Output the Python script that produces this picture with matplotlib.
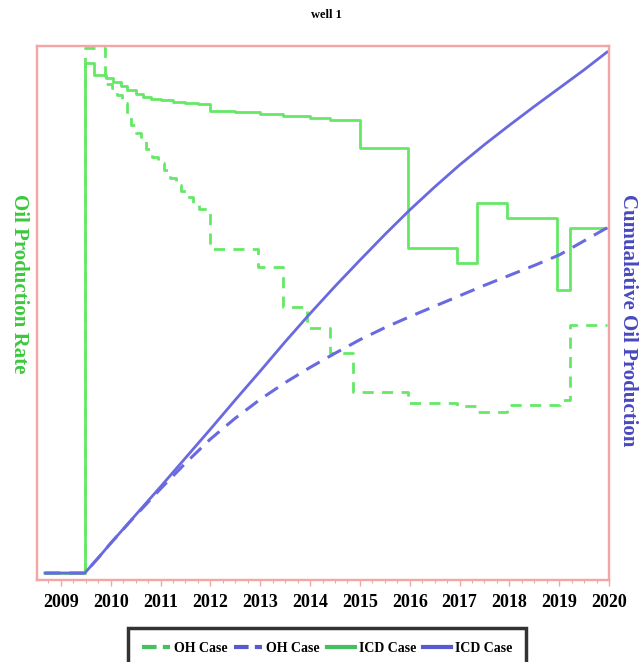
import matplotlib
matplotlib.use("Agg")
import matplotlib.pyplot as plt
from matplotlib.lines import Line2D
from matplotlib.ticker import MultipleLocator

# ---------------- data ----------------
years_ticks = list(range(2009, 2021))

# ICD case oil production rate (step, 'post')
icd_rate_x = [2008.68, 2009.48, 2009.66, 2009.90, 2010.05, 2010.20, 2010.33, 2010.50,
              2010.65, 2010.80, 2011.00, 2011.25, 2011.50, 2011.75, 2011.99, 2012.50,
              2013.00, 2013.46, 2014.00, 2014.40, 2015.00, 2015.97, 2016.95, 2017.35,
              2017.96, 2018.96, 2019.22, 2019.96]
icd_rate_y = [0.0, 97.1, 94.9, 94.3, 93.5, 92.8, 92.0, 91.3,
              90.7, 90.3, 90.0, 89.8, 89.5, 89.3, 88.0, 87.8,
              87.5, 87.0, 86.6, 86.3, 81.0, 61.9, 59.0, 70.5,
              67.6, 53.9, 65.7, 65.7]

# OH case oil production rate (step, 'post')
oh_rate_x = [2008.68, 2009.48, 2009.88, 2010.02, 2010.12, 2010.22, 2010.32, 2010.40,
             2010.50, 2010.60, 2010.70, 2010.82, 2010.94, 2011.06, 2011.18, 2011.30,
             2011.42, 2011.54, 2011.66, 2011.78, 2011.93, 2011.99, 2012.96, 2013.46,
             2013.94, 2014.40, 2014.86, 2015.97, 2016.95, 2017.35, 2017.96, 2019.02,
             2019.22, 2019.96]
oh_rate_y = [0.0, 100.0, 93.2, 92.4, 91.0, 89.6, 87.5, 85.3,
             83.8, 82.3, 80.8, 79.3, 78.0, 76.7, 75.3, 74.0,
             72.8, 71.6, 70.4, 69.4, 68.5, 61.7, 58.3, 50.7,
             46.7, 41.9, 34.5, 32.4, 31.8, 30.7, 32.0, 33.0,
             47.2, 47.2]

# Cumulative oil production
cum_x = [2008.68, 2009.48, 2009.75, 2010.0, 2010.5, 2011.0, 2011.5, 2012.0, 2012.5,
         2013.0, 2013.5, 2014.0, 2014.5, 2015.0, 2015.5, 2016.0, 2016.5, 2017.0,
         2017.5, 2018.0, 2018.5, 2019.0, 2019.5, 2019.96]
icd_cum = [0.0, 0.0, 2.9, 5.7, 11.1, 16.5, 22.0, 27.5, 33.1,
           38.6, 44.2, 49.6, 54.8, 59.8, 64.7, 69.4, 73.8, 78.0,
           81.9, 85.6, 89.2, 92.7, 96.2, 99.6]
oh_cum = [0.0, 0.0, 2.9, 5.7, 11.0, 16.1, 21.0, 25.6, 29.6,
          33.2, 36.4, 39.3, 42.0, 44.6, 46.9, 49.0, 51.0, 53.0,
          55.0, 56.9, 58.8, 60.8, 63.5, 66.0]

legend_labels = ["OH Case", "OH Case", "ICD Case", "ICD Case"]

# ---------------- style ----------------
GREEN = "#66e866"
BLUE = "#6a6ae0"
FRAME = "#f4a6a6"
SERIF = ["Liberation Serif", "DejaVu Serif"]

W, H = 642, 662
fig = plt.figure(figsize=(W / 100, H / 100), dpi=100)
ax = fig.add_axes([37 / W, 1 - 580 / H, (609 - 37) / W, (580 - 46) / H])
ax2 = ax.twinx()

ax.step(icd_rate_x, icd_rate_y, where="post", color=GREEN, lw=2.0)
ax.step(oh_rate_x, oh_rate_y, where="post", color=GREEN, lw=2.0,
        linestyle=(0, (4, 3)))

ax2.plot(cum_x, oh_cum, color=BLUE, lw=2.2, linestyle=(0, (5, 3)))
ax2.plot(cum_x, icd_cum, color=BLUE, lw=2.0)

ax.set_xlim(2008.52, 2020.0)
ax.set_ylim(-1.33, 100.38)
ax2.set_ylim(-1.34, 100.76)

for a in (ax, ax2):
    for s in a.spines.values():
        s.set_color(FRAME)
        s.set_linewidth(1.6)
    a.set_yticks([])

ax.set_xticks(years_ticks)
ax.xaxis.set_minor_locator(MultipleLocator(0.25))
ax.tick_params(axis="x", which="major", length=4, color=FRAME, width=1.0,
               pad=6)
ax.tick_params(axis="x", which="minor", length=2.5, color=FRAME, width=0.8)
for lab in ax.get_xticklabels():
    lab.set_fontfamily(SERIF)
    lab.set_fontweight("bold")
    lab.set_fontsize(13)

fig.text(326 / W, 1 - 15 / H, "well 1", ha="center", va="center",
         family=SERIF, fontweight="bold", fontsize=9)

fig.text(19 / W, 1 - 284 / H, "Oil Production Rate", rotation=270,
         ha="center", va="center", color="#3cc83c", family=SERIF,
         fontweight="bold", fontsize=15)
fig.text(628 / W, 1 - 320 / H, "Cumualative Oil Production", rotation=270,
         ha="center", va="center", color="#4848c0", family=SERIF,
         fontweight="bold", fontsize=15)

handles = [
    Line2D([], [], color="#44c060", lw=3, linestyle=(0, (3.5, 1.5))),
    Line2D([], [], color="#5a5ad0", lw=3, linestyle=(0, (3.5, 1.5))),
    Line2D([], [], color="#44c060", lw=3),
    Line2D([], [], color="#5a5ad0", lw=3),
]
leg = fig.legend(handles, legend_labels, loc="upper left", ncol=4,
                 bbox_to_anchor=(128 / W, 1 - 628 / H),
                 prop={"family": SERIF, "weight": "bold", "size": 10},
                 frameon=True, fancybox=False, handlelength=2.0,
                 handletextpad=0.3, columnspacing=0.5, borderpad=1.0,
                 borderaxespad=0.0)
leg.get_frame().set_edgecolor("black")
leg.get_frame().set_linewidth(2.5)

fig.savefig("out.png", dpi=100)
